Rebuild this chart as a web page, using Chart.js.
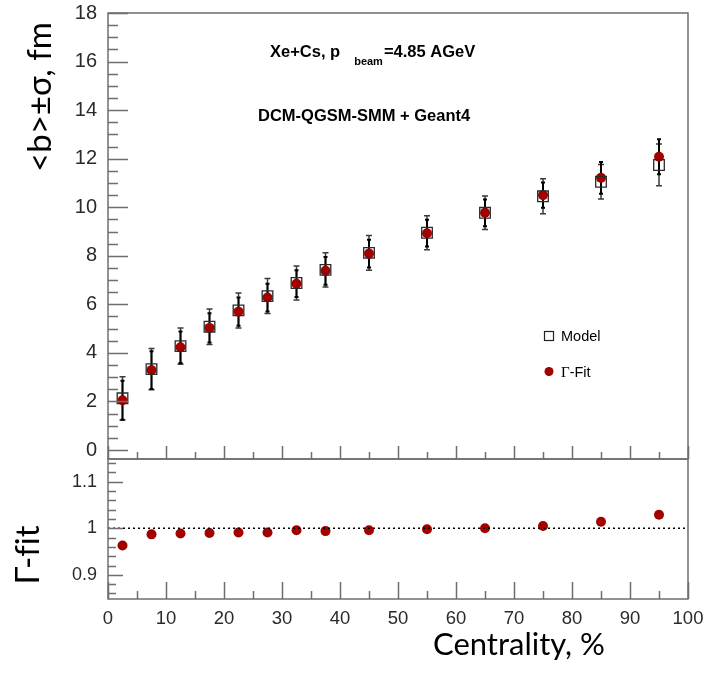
<!DOCTYPE html>
<html>
<head>
<meta charset="utf-8">
<script src="https://cdn.jsdelivr.net/npm/chart.js@4.4.1/dist/chart.umd.min.js"></script>
<style>
  body { margin: 0; background: #fff; }
  #wrap { position: relative; width: 705px; height: 673px; }
  #topChart { position: absolute; left: 0; top: 0; }
  #ratioChart { position: absolute; left: 0; top: 458px; }
</style>
</head>
<body>
<div id="wrap">
  <canvas id="topChart" width="705" height="460"></canvas>
  <canvas id="ratioChart" width="705" height="215"></canvas>
</div>
<script>
// centrality bins, %
const centrality = [2.5, 7.5, 12.5, 17.5, 22.5, 27.5, 32.5, 37.5, 45, 55, 65, 75, 85, 95];
// <b> and sigma, fm
const modelB   = [2.13, 3.33, 4.28, 5.08, 5.75, 6.34, 6.88, 7.42, 8.12, 8.95, 9.77, 10.45, 11.05, 11.74];
const modelErr = [0.89, 0.85, 0.75, 0.73, 0.72, 0.72, 0.70, 0.71, 0.72, 0.70, 0.69, 0.72, 0.71, 0.86];
const fitB     = [2.05, 3.29, 4.23, 5.03, 5.70, 6.28, 6.85, 7.38, 8.09, 8.93, 9.77, 10.50, 11.21, 12.08];
const fitErr   = [0.80, 0.78, 0.65, 0.60, 0.58, 0.57, 0.55, 0.57, 0.57, 0.55, 0.55, 0.52, 0.65, 0.72];
// Gamma-fit / model
const ratio = [0.963, 0.987, 0.989, 0.990, 0.991, 0.991, 0.996, 0.994, 0.996, 0.998, 1.000, 1.005, 1.014, 1.029];
const refLineX = [0, 100];
const refLineY = [1, 1];

const red = '#a30000';
const frameColor = '#6e6e6e';
const labelColor = '#2a2a2a';

function pts(xs, ys) {
    return xs.map((x, i) => ({ x: x, y: ys[i] }));
}

// ROOT-like frame with inward ticks
const framePlugin = {
    id: 'frame',
    afterDraw(chart, args, o) {
        const ctx = chart.ctx;
        const a = chart.chartArea;
        const xs = chart.scales.x;
        const ys = chart.scales.y;
        ctx.save();
        ctx.strokeStyle = frameColor;
        ctx.lineWidth = 1.5;
        ctx.strokeRect(a.left, a.top, a.right - a.left, a.bottom - a.top);
        ctx.beginPath();
        for (let i = 0; ; i++) {
            const v = o.yFrom + i * o.yMinor;
            if (v > ys.max + 1e-9) break;
            if (v < ys.min) continue;
            const major = Math.abs(v / o.yMajor - Math.round(v / o.yMajor)) < 1e-6;
            const y = Math.round(ys.getPixelForValue(v)) + 0.5;
            ctx.moveTo(a.left, y);
            ctx.lineTo(a.left + (major ? o.yLong : o.yShort), y);
        }
        for (let i = 0; ; i++) {
            const v = i * 5;
            if (v > 100) break;
            const major = v % 10 === 0;
            const x = Math.round(xs.getPixelForValue(v)) + 0.5;
            ctx.moveTo(x, a.bottom);
            ctx.lineTo(x, a.bottom - (major ? o.xLong : o.xShort));
        }
        ctx.stroke();
        ctx.restore();
    }
};

// vertical error bars with small caps
const errorPlugin = {
    id: 'errbars',
    beforeDatasetsDraw(chart, args, o) {
        if (!o.sets) return;
        const ctx = chart.ctx;
        const xs = chart.scales.x;
        const ys = chart.scales.y;
        ctx.save();
        o.sets.forEach((s) => {
            ctx.strokeStyle = s.color;
            ctx.lineWidth = s.width;
            s.x.forEach((xv, i) => {
                const x = xs.getPixelForValue(xv);
                const y1 = ys.getPixelForValue(s.y[i] + s.err[i]);
                const y2 = ys.getPixelForValue(s.y[i] - s.err[i]);
                ctx.beginPath();
                ctx.moveTo(x, y1);
                ctx.lineTo(x, y2);
                ctx.moveTo(x - s.cap, y1);
                ctx.lineTo(x + s.cap, y1);
                ctx.moveTo(x - s.cap, y2);
                ctx.lineTo(x + s.cap, y2);
                ctx.stroke();
            });
        });
        ctx.restore();
    }
};

// free text: titles, labels and the legend
const textPlugin = {
    id: 'texts',
    afterDraw(chart, args, o) {
        const ctx = chart.ctx;
        ctx.save();
        ctx.fillStyle = '#000';
        if (o.yTitle) {
            ctx.save();
            ctx.translate(o.yTitle.x, o.yTitle.y);
            ctx.rotate(-Math.PI / 2);
            ctx.font = o.yTitle.font;
            ctx.textAlign = 'center';
            ctx.textBaseline = 'middle';
            ctx.fillText(o.yTitle.text, 0, 0);
            ctx.restore();
        }
        if (o.xTitle) {
            ctx.font = o.xTitle.font;
            ctx.textAlign = 'left';
            ctx.textBaseline = 'alphabetic';
            ctx.fillText(o.xTitle.text, o.xTitle.x, o.xTitle.y);
        }
        if (o.header) {
            ctx.textAlign = 'left';
            ctx.textBaseline = 'alphabetic';
            ctx.font = 'bold 16.5px "Liberation Sans", Arial, sans-serif';
            let x = 270;
            ctx.fillText('Xe+Cs, p', x, 57);
            x += ctx.measureText('Xe+Cs, p').width + 14;
            ctx.font = 'bold 11px "Liberation Sans", Arial, sans-serif';
            ctx.fillText('beam', x, 65);
            x += ctx.measureText('beam').width + 1;
            ctx.font = 'bold 16.5px "Liberation Sans", Arial, sans-serif';
            ctx.fillText('=4.85 AGeV', x, 57);
            ctx.fillText('DCM-QGSM-SMM + Geant4', 258, 121);

            // legend
            ctx.strokeStyle = '#222';
            ctx.lineWidth = 1.2;
            ctx.strokeRect(544.5, 331.5, 9, 9);
            ctx.fillStyle = red;
            ctx.beginPath();
            ctx.arc(549, 371.5, 4.5, 0, Math.PI * 2);
            ctx.fill();
            ctx.fillStyle = '#000';
            ctx.font = '14.5px "Liberation Sans", Arial, sans-serif';
            ctx.fillText('Model', 561, 341);
            ctx.font = '15px "Liberation Serif", serif';
            ctx.fillText('\u0393', 561, 377);
            const gw = ctx.measureText('\u0393').width;
            ctx.font = '14.5px "Liberation Sans", Arial, sans-serif';
            ctx.fillText('-Fit', 561 + gw, 377);
        }
        ctx.restore();
    }
};

const tickFont = { family: '"Liberation Sans", Arial, sans-serif' };

function noPadY(scale) {
    scale.width = 108;
    scale.paddingTop = 0;
    scale.paddingBottom = 0;
}

new Chart(document.getElementById('topChart'), {
    type: 'scatter',
    data: {
        datasets: [
            {
                label: 'Model',
                data: pts(centrality, modelB),
                pointStyle: 'rect',
                pointRadius: 7.5,
                pointBorderWidth: 1.3,
                pointBorderColor: '#2b2b2b',
                pointBackgroundColor: 'rgba(0,0,0,0)'
            },
            {
                label: '\u0393-Fit',
                data: pts(centrality, fitB),
                pointStyle: 'circle',
                pointRadius: 5,
                pointBorderWidth: 0,
                pointBackgroundColor: red
            }
        ]
    },
    options: {
        responsive: false,
        animation: false,
        events: [],
        layout: { autoPadding: false, padding: { top: 13, right: 17, bottom: 1, left: 0 } },
        scales: {
            x: { type: 'linear', min: 0, max: 100, display: false },
            y: {
                min: -0.37,
                max: 18,
                grid: { display: false, drawTicks: false },
                border: { display: false },
                ticks: {
                    stepSize: 2,
                    includeBounds: false,
                    padding: 11,
                    color: labelColor,
                    font: Object.assign({ size: 20 }, tickFont)
                },
                afterFit: noPadY
            }
        },
        plugins: {
            legend: { display: false },
            tooltip: { enabled: false },
            frame: { yFrom: 0, yMinor: 0.5, yMajor: 2, yLong: 20, yShort: 10, xLong: 13, xShort: 7 },
            errbars: {
                sets: [
                    { x: centrality, y: modelB, err: modelErr, color: '#3a3a3a', width: 1.5, cap: 3 },
                    { x: centrality, y: fitB, err: fitErr, color: '#000', width: 2, cap: 2 }
                ]
            },
            texts: {
                header: true,
                yTitle: { text: '<b>\u00b1\u03c3, fm', x: 40, y: 97, font: '33px Lato, "Open Sans", sans-serif' }
            }
        }
    },
    plugins: [framePlugin, errorPlugin, textPlugin]
});

new Chart(document.getElementById('ratioChart'), {
    type: 'scatter',
    data: {
        datasets: [
            {
                type: 'line',
                label: 'ref',
                data: pts(refLineX, refLineY),
                borderColor: '#000',
                borderWidth: 1.6,
                borderDash: [2, 3],
                pointRadius: 0
            },
            {
                label: '\u0393-fit',
                data: pts(centrality, ratio),
                pointStyle: 'circle',
                pointRadius: 5,
                pointBorderWidth: 0,
                pointBackgroundColor: red
            }
        ]
    },
    options: {
        responsive: false,
        animation: false,
        events: [],
        layout: { autoPadding: false, padding: { top: 1, right: 17, bottom: 0, left: 0 } },
        scales: {
            x: {
                type: 'linear',
                min: 0,
                max: 100,
                grid: { display: false, drawTicks: false },
                border: { display: false },
                ticks: {
                    stepSize: 10,
                    padding: 9,
                    color: labelColor,
                    maxRotation: 0,
                    font: Object.assign({ size: 18.5 }, tickFont)
                },
                afterFit(scale) {
                    scale.height = 74;
                    scale.paddingLeft = 0;
                    scale.paddingRight = 0;
                }
            },
            y: {
                min: 0.848,
                max: 1.149,
                grid: { display: false, drawTicks: false },
                border: { display: false },
                ticks: {
                    stepSize: 0.1,
                    includeBounds: false,
                    padding: 11,
                    color: labelColor,
                    font: Object.assign({ size: 18 }, tickFont),
                    callback: (v) => String(+v.toFixed(2))
                },
                afterFit: noPadY
            }
        },
        plugins: {
            legend: { display: false },
            tooltip: { enabled: false },
            frame: { yFrom: 0.86, yMinor: 0.02, yMajor: 0.1, yLong: 15, yShort: 8, xLong: 17, xShort: 8 },
            texts: {
                yTitle: { text: '\u0393-f\u200Cit', x: 28, y: 97, font: '33px Lato, "Open Sans", sans-serif' },
                xTitle: { text: 'Centrality, %', x: 433, y: 197, font: '31px Lato, "Open Sans", sans-serif' }
            }
        }
    },
    plugins: [framePlugin, errorPlugin, textPlugin]
});
</script>
</body>
</html>
